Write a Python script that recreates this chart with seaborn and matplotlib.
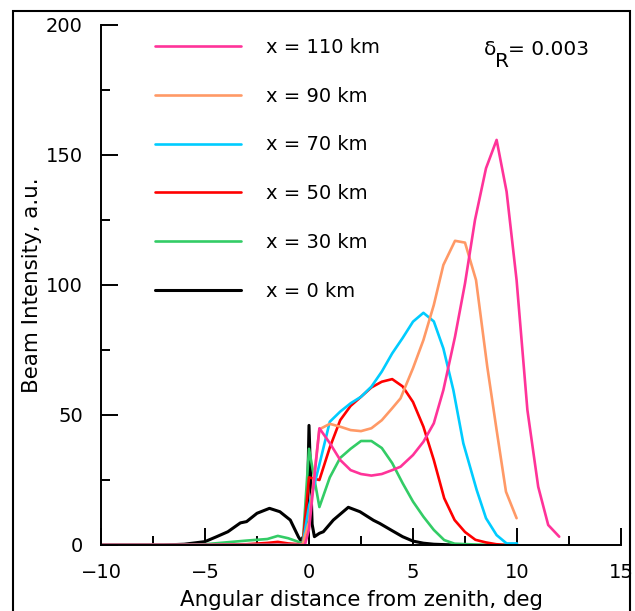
import numpy as np
import pandas as pd
import matplotlib
matplotlib.use("Agg")
import matplotlib.pyplot as plt
from matplotlib.patches import Rectangle
from matplotlib.ticker import MultipleLocator
import seaborn as sns

# ---------------- data ----------------
x0 = [-10, -8, -7, -6, -5, -4.44, -3.9, -3.3, -3.0, -2.5, -1.9, -1.4, -0.9, -0.5, -0.4,
      -0.1, 0, 0.15, 0.26, 0.5, 0.69, 1.17, 1.89, 2.45, 3.1, 3.4, 4, 4.5, 5, 5.5, 6, 7]
y0 = [0, 0, 0, 0.3, 1.3, 3.2, 5.1, 8.5, 9.0, 12.2, 14.1, 12.8, 9.6, 3.0, 1.8,
      5, 46, 8, 3.2, 4.5, 5.1, 9.6, 14.5, 12.8, 9.5, 8.3, 5.5, 3.2, 1.5, 0.7, 0.3, 0]

x30 = [-10, -6, -5, -4, -3, -2, -1.5, -1, -0.5, -0.3, 0, 0.5, 1, 1.5, 2, 2.5, 3, 3.5,
       4, 4.5, 5, 5.5, 6, 6.5, 7, 8, 9, 10]
y30 = [0, 0, 0.3, 1, 1.7, 2.3, 3.5, 2.6, 1.2, 0.5, 37, 14.6, 26, 33.5, 37, 40, 40, 37.3,
       31.5, 23.8, 16.7, 10.9, 5.8, 1.9, 0.5, 0.2, 0, 0]

x50 = [-10, -5, -3, -2, -1.5, -1, -0.5, -0.3, 0, 0.5, 1, 1.5, 2, 2.5, 3, 3.5, 4, 4.5,
       5, 5.5, 6, 6.5, 7, 7.5, 8, 8.5, 9, 9.5]
y50 = [0, 0, 0.3, 0.8, 1.2, 0.6, 0.3, 0.3, 26, 25, 37.5, 48, 53.5, 57, 60.6, 62.8, 63.8, 61,
       55, 45.5, 32.7, 18, 9.6, 5, 2, 1, 0.3, 0]

x70 = [-10, -0.5, -0.3, 0, 0.5, 1, 1.5, 2, 2.5, 3, 3.5, 4, 4.5, 5, 5.5, 6, 6.46, 6.94,
       7.42, 8.06, 8.51, 9.02, 9.5, 10]
y70 = [0, 0, 0.3, 15, 31, 47.4, 51.3, 54.5, 57, 60.9, 66.7, 73.7, 79.6, 85.9, 89.3, 86,
       75.6, 59.6, 39.1, 21.2, 10.3, 3.8, 0.6, 0.6]

x90 = [-10, -0.5, -0.3, 0, 0.5, 1, 1.5, 2, 2.5, 3, 3.5, 4, 4.4, 5, 5.5, 6, 6.46, 7.02,
       7.5, 8.03, 8.57, 9.02, 9.47, 9.98]
y90 = [0, 0, 0.3, 9, 44.5, 46.6, 45.5, 44.2, 43.8, 44.9, 48, 52.6, 56.4, 68, 78.8, 92.3,
       107.7, 117, 116.3, 101.9, 68.6, 44.2, 20.5, 10.3]

x110 = [-10, -0.5, -0.2, 0, 0.5, 1, 1.5, 2, 2.5, 3, 3.5, 4, 4.4, 5, 5.5, 6, 6.46, 7.02,
        7.5, 7.98, 8.51, 9.02, 9.5, 9.98, 10.5, 11.02, 11.5, 12.03]
y110 = [0, 0, 0, 6, 44.9, 39.2, 32.7, 28.8, 27.3, 26.7, 27.3, 28.8, 30.1, 34.6, 39.7,
        46.8, 59.6, 80.1, 100.6, 125, 144.9, 155.8, 135.9, 101.9, 51.9, 22.4, 7.7, 3.2]

series_labels = ["x = 0 km", "x = 30 km", "x = 50 km", "x = 70 km", "x = 90 km", "x = 110 km"]
series_x = [x0, x30, x50, x70, x90, x110]
series_y = [y0, y30, y50, y70, y90, y110]
series_colors = ["#000000", "#33cc66", "#ff0000", "#00ccff", "#ff9966", "#ff3399"]
series_lw = [2.2, 1.9, 1.9, 1.9, 1.9, 1.9]

xticks = [-10, -5, 0, 5, 10, 15]
yticks = [0, 50, 100, 150, 200]

# ---------------- style ----------------
sns.set_theme(style="white")
plt.rcParams["font.family"] = ["DejaVu Sans"]
plt.rcParams["text.color"] = "black"
plt.rcParams["axes.labelcolor"] = "black"
plt.rcParams["xtick.color"] = "black"
plt.rcParams["ytick.color"] = "black"
plt.rcParams["axes.edgecolor"] = "black"
plt.rcParams["axes.linewidth"] = 1.4

W, H = 635, 611
fig = plt.figure(figsize=(W / 100, H / 100), dpi=100)
ax = fig.add_axes([101 / W, (H - 545) / H, 520 / W, 520 / H])

for xs, ys, lab, col, lw in zip(series_x, series_y, series_labels, series_colors, series_lw):
    df = pd.DataFrame({"x": xs, "y": ys})
    sns.lineplot(data=df, x="x", y="y", color=col, lw=lw, ax=ax, label=lab,
                 sort=False, estimator=None)

ax.set_xlim(-10, 15)
ax.set_ylim(0, 200)
ax.set_xticks(xticks)
ax.set_yticks(yticks)
ax.xaxis.set_minor_locator(MultipleLocator(2.5))
ax.yaxis.set_minor_locator(MultipleLocator(25))
ax.tick_params(axis="both", which="major", direction="in", length=12, width=1.4,
               labelsize=14, pad=13, color="black", labelcolor="black",
               bottom=True, left=True, top=False, right=False)
ax.tick_params(axis="both", which="minor", direction="in", length=6.5, width=1.4,
               color="black", bottom=True, left=True, top=False, right=False)
for s in ["top", "right"]:
    ax.spines[s].set_visible(False)
for s in ["left", "bottom"]:
    ax.spines[s].set_linewidth(1.4)
    ax.spines[s].set_color("black")

ax.set_xlabel("Angular distance from zenith, deg", fontsize=15.4, color="black")
ax.set_ylabel("Beam Intensity, a.u.", fontsize=15.4, color="black")
ax.xaxis.set_label_coords(0.5, -(590 - 545) / 520)
ax.yaxis.set_label_coords((42 - 101) / 520, 0.5)

h, l = ax.get_legend_handles_labels()
leg = ax.legend(h[::-1], l[::-1], loc="upper left",
                bbox_to_anchor=((155 - 101) / 520, (545 - 38) / 520),
                frameon=False, fontsize=14, borderpad=0, borderaxespad=0,
                handlelength=4.4, handletextpad=1.3, labelspacing=1.53)
for t in leg.get_texts():
    t.set_color("black")

# delta_R annotation
fig.text(484 / W, 1 - 55 / H, "δ", fontsize=14.5, ha="left", va="baseline")
fig.text(495 / W, 1 - 67 / H, "R", fontsize=14.5, ha="left", va="baseline")
fig.text(508 / W, 1 - 55 / H, "= 0.003", fontsize=14.5, ha="left", va="baseline")

# outer frame
fig.patches.append(Rectangle((13 / W, -0.1), (630 - 13) / W, 1 - 11 / H + 0.1,
                             transform=fig.transFigure, fill=False, lw=1.5,
                             edgecolor="black", clip_on=False))

fig.savefig("out.png", dpi=100)
